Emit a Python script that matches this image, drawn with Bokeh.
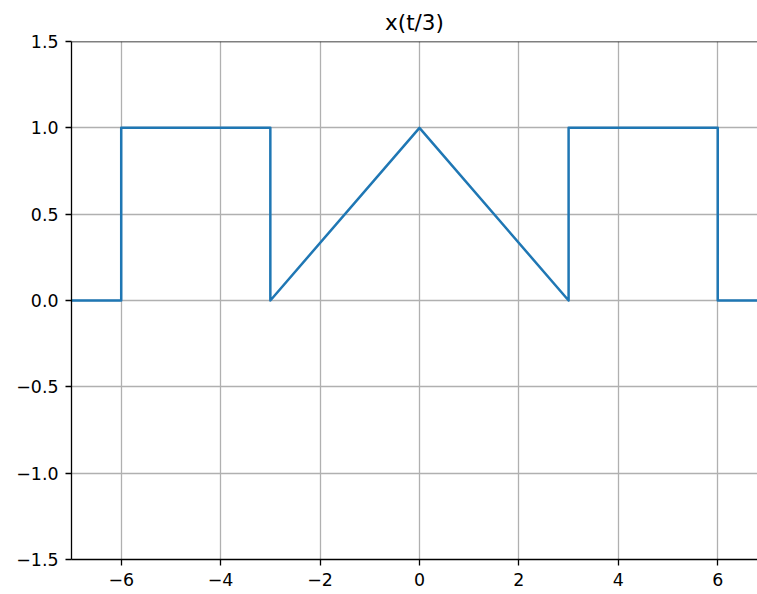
from bokeh.plotting import figure
from bokeh.models import Range1d, FixedTicker, CustomJSTickFormatter, Span
from bokeh.embed import file_html
from bokeh.resources import INLINE

# signal x(t/3)
t = [-7, -6, -6, -3, -3, 0, 3, 3, 6, 6, 7]
x = [0, 0, 1, 1, 0, 1, 0, 1, 1, 0, 0]
x_ticks = [-6, -4, -2, 0, 2, 4, 6]
y_ticks = [-1.5, -1.0, -0.5, 0.0, 0.5, 1.0, 1.5]

p = figure(width=757, height=594, output_backend="svg", toolbar_location=None,
           x_range=Range1d(-7, 6.8), y_range=Range1d(-1.5, 1.5),
           min_border_left=71, min_border_right=0, min_border_top=41, min_border_bottom=35,
           title="x(t/3)")
p.title.align = "center"
p.title.offset = 6
p.title.text_font = "DejaVu Sans"
p.title.text_font_size = "21.5px"
p.title.text_font_style = "normal"
p.title.text_color = "black"
p.title.standoff = 13
p.outline_line_color = None
p.background_fill_color = "white"
p.border_fill_color = "white"

for ax, ticks, fmt in ((p.xaxis, x_ticks, 0), (p.yaxis, y_ticks, 1)):
    ax.ticker = FixedTicker(ticks=ticks)
    ax.formatter = CustomJSTickFormatter(code="return tick.toFixed(%d).replace('-', '\u2212');" % fmt)
    ax.axis_line_color = "black"
    ax.axis_line_width = 1.3
    ax.major_tick_line_color = "black"
    ax.major_tick_line_width = 1.3
    ax.major_tick_out = 6
    ax.major_tick_in = 0
    ax.minor_tick_line_color = None
    ax.major_label_text_font = "DejaVu Sans"
    ax.major_label_text_font_size = "17.4px"
    ax.major_label_text_color = "black"
    ax.major_label_standoff = 7

p.grid.grid_line_color = "#b0b0b0"
p.grid.grid_line_width = 1.3
p.xgrid.ticker = FixedTicker(ticks=x_ticks)
p.ygrid.ticker = FixedTicker(ticks=y_ticks)

p.add_layout(Span(location=1.5, dimension="width", line_color="black", line_width=1.3))

p.line(t, x, line_color="#1f77b4", line_width=2.5, line_join="round")

open("out.html", "w").write(file_html(p, INLINE))
